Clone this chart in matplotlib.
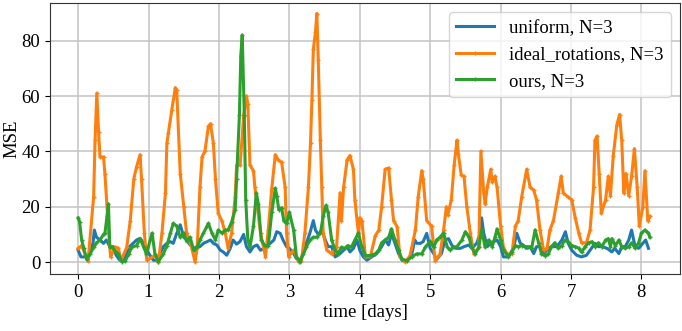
import matplotlib
matplotlib.use("Agg")
import matplotlib.pyplot as plt

# values (time in days, MSE)
uniform_t = [0.00, 0.04, 0.08, 0.12, 0.17, 0.21, 0.23, 0.26, 0.31, 0.36, 0.40, 0.45, 0.50, 0.54, 0.59,
             0.64, 0.69, 0.73, 0.78, 0.83, 0.88, 0.93, 0.97, 1.02, 1.07, 1.12, 1.16, 1.21, 1.26, 1.31,
             1.35, 1.40, 1.45, 1.50, 1.54, 1.59, 1.64, 1.69, 1.73, 1.78, 1.83, 1.88, 1.92, 1.97, 2.02,
             2.06, 2.11, 2.16, 2.20, 2.25, 2.30, 2.35, 2.39, 2.44, 2.49, 2.54, 2.59, 2.64, 2.70, 2.78,
             2.82, 2.87, 2.91, 2.96, 3.00, 3.06, 3.10, 3.15, 3.20, 3.24, 3.29, 3.34, 3.37, 3.41, 3.46,
             3.51, 3.55, 3.60, 3.65, 3.72, 3.77, 3.82, 3.86, 3.91, 3.96, 4.00, 4.05, 4.10, 4.17, 4.24,
             4.31, 4.36, 4.41, 4.45, 4.50, 4.55, 4.60, 4.67, 4.74, 4.78, 4.81, 4.86, 4.90, 4.95, 5.00,
             5.05, 5.09, 5.16, 5.21, 5.26, 5.31, 5.36, 5.43, 5.48, 5.55, 5.59, 5.66, 5.71, 5.73, 5.76,
             5.81, 5.86, 5.90, 5.95, 6.00, 6.04, 6.11, 6.18, 6.23, 6.28, 6.32, 6.37, 6.42, 6.47, 6.51,
             6.56, 6.61, 6.68, 6.73, 6.80, 6.87, 6.92, 6.96, 7.01, 7.08, 7.15, 7.22, 7.29, 7.34, 7.39,
             7.44, 7.51, 7.58, 7.62, 7.68, 7.72, 7.77, 7.82, 7.86, 7.91, 7.96, 8.02, 8.06, 8.10]
uniform_mse = [4.3, 1.9, 1.9, 1.9, 3.1, 6.8, 11.6, 9.0, 8.0, 6.8, 8.0, 5.6, 5.6, 2.5, 0.7,
               0.7, 3.1, 5.6, 6.8, 8.0, 8.6, 6.8, 4.3, 2.5, 0.7, 0.7, 3.1, 5.6, 6.8, 7.4,
               6.8, 10.4, 13.5, 9.0, 8.0, 6.2, 5.0, 5.6, 5.6, 6.8, 7.4, 8.0, 6.8, 6.2, 4.3,
               3.7, 2.5, 5.0, 8.0, 6.5, 7.5, 10.0, 5.6, 3.7, 5.6, 6.2, 4.3, 5.0, 6.2, 8.0,
               11.0, 10.4, 8.0, 5.6, 5.0, 3.1, 1.3, 0.7, 3.1, 6.8, 10.4, 15.0, 11.6, 10.0, 11.6,
               8.0, 5.6, 5.6, 1.9, 3.1, 4.3, 5.6, 3.7, 5.0, 8.0, 4.3, 1.9, 0.7, 1.9, 3.1,
               5.6, 8.0, 6.2, 10.4, 6.8, 3.1, 0.7, 0.7, 3.1, 8.0, 6.8, 6.8, 7.4, 10.4, 5.0,
               3.1, 1.0, 3.1, 8.0, 8.5, 6.0, 5.0, 5.0, 5.6, 6.2, 5.0, 6.8, 10.4, 16.0, 10.4,
               5.6, 6.8, 7.4, 8.0, 5.6, 1.9, 1.9, 5.0, 10.4, 6.8, 6.2, 5.0, 5.6, 3.1, 5.6,
               5.6, 3.1, 5.0, 5.6, 5.6, 8.0, 11.0, 6.8, 4.3, 2.5, 1.9, 2.5, 5.0, 6.8, 5.6,
               5.6, 5.0, 3.7, 5.0, 3.1, 5.6, 5.6, 8.0, 11.6, 5.6, 5.0, 6.8, 8.0, 5.0]

ideal_t = [0.00, 0.05, 0.14, 0.22, 0.24, 0.265, 0.29, 0.31, 0.36, 0.38, 0.43, 0.46, 0.53, 0.57, 0.61,
           0.69, 0.74, 0.79, 0.83, 0.88, 0.90, 0.94, 0.975, 1.09, 1.14, 1.19, 1.24, 1.26, 1.28, 1.33,
           1.38, 1.40, 1.45, 1.50, 1.54, 1.61, 1.66, 1.69, 1.73, 1.76, 1.80, 1.85, 1.88, 1.92, 1.95,
           1.99, 2.04, 2.09, 2.13, 2.18, 2.23, 2.25, 2.30, 2.35, 2.39, 2.41, 2.44, 2.49, 2.51, 2.59,
           2.66, 2.70, 2.75, 2.80, 2.84, 2.89, 2.94, 2.96, 2.99, 3.06, 3.13, 3.17, 3.22, 3.27, 3.30,
           3.32, 3.34, 3.37, 3.39, 3.41, 3.44, 3.46, 3.48, 3.53, 3.60, 3.67, 3.72, 3.74, 3.77, 3.82,
           3.86, 3.91, 3.93, 3.98, 4.00, 4.03, 4.08, 4.15, 4.22, 4.27, 4.31, 4.36, 4.41, 4.45, 4.48,
           4.53, 4.57, 4.64, 4.71, 4.79, 4.83, 4.88, 4.90, 4.95, 5.02, 5.07, 5.14, 5.19, 5.23, 5.25,
           5.30, 5.34, 5.38, 5.40, 5.44, 5.48, 5.52, 5.57, 5.62, 5.69, 5.72, 5.76, 5.78, 5.81, 5.86,
           5.88, 5.92, 5.95, 6.00, 6.04, 6.09, 6.16, 6.21, 6.25, 6.30, 6.37, 6.42, 6.47, 6.51, 6.56,
           6.61, 6.66, 6.70, 6.75, 6.82, 6.86, 6.89, 6.95, 7.01, 7.06, 7.11, 7.15, 7.22, 7.27, 7.32,
           7.34, 7.37, 7.40, 7.43, 7.49, 7.53, 7.56, 7.60, 7.65, 7.69, 7.72, 7.75, 7.78, 7.82, 7.86,
           7.90, 7.94, 7.97, 8.02, 8.05, 8.09, 8.12]
ideal_mse = [5.0, 6.0, 0.3, 23.7, 44.0, 61.0, 47.0, 38.0, 38.0, 32.0, 11.6, 2.0, 5.4, 5.0, 0.6,
             5.4, 15.0, 30.0, 34.5, 38.8, 30.0, 10.5, 0.7, 2.4, 0.1, 10.5, 25.0, 43.0, 46.5, 55.0,
             63.0, 62.0, 32.0, 20.0, 10.5, 5.4, 0.1, 5.0, 27.0, 38.0, 40.0, 49.0, 50.0, 43.0, 30.0,
             17.6, 15.0, 10.5, 5.0, 10.5, 23.7, 35.0, 35.0, 52.7, 60.0, 57.0, 35.0, 33.0, 27.0, 10.5,
             2.0, 11.6, 26.7, 38.8, 37.0, 36.0, 27.0, 10.5, 2.0, 4.4, 0.1, 0.5, 10.5, 27.0, 43.0,
             58.6, 76.8, 83.0, 89.8, 73.0, 44.0, 27.0, 10.5, 4.4, 3.0, 5.4, 25.0, 15.0, 27.0, 37.0,
             38.5, 33.5, 22.5, 10.5, 16.0, 15.0, 2.0, 2.0, 9.5, 11.6, 20.0, 33.5, 34.0, 22.5, 15.0,
             12.8, 2.0, 0.1, 2.0, 11.6, 23.7, 33.0, 30.0, 15.0, 13.0, 0.5, 3.0, 11.6, 20.0, 17.0,
             22.5, 35.0, 44.0, 39.0, 31.5, 31.0, 20.0, 10.5, 3.0, 5.4, 40.0, 25.0, 21.0, 27.0, 33.5,
             29.0, 31.0, 27.0, 13.0, 5.4, 3.0, 3.0, 13.0, 15.0, 23.7, 33.5, 27.0, 26.0, 22.5, 11.6,
             4.4, 5.0, 11.6, 15.0, 25.0, 31.0, 25.0, 23.7, 22.5, 16.0, 10.5, 7.0, 7.0, 11.6, 27.0,
             44.0, 45.5, 32.0, 17.6, 22.5, 31.0, 24.0, 38.5, 49.5, 53.3, 44.0, 25.0, 32.0, 24.0, 31.0,
             41.0, 27.0, 13.0, 20.0, 33.0, 15.0, 16.5]

ours_t = [0.00, 0.02, 0.05, 0.08, 0.12, 0.17, 0.22, 0.26, 0.31, 0.36, 0.38, 0.41, 0.43, 0.45, 0.48,
          0.53, 0.57, 0.62, 0.67, 0.72, 0.76, 0.83, 0.88, 0.93, 0.97, 1.05, 1.09, 1.14, 1.21, 1.26,
          1.31, 1.35, 1.40, 1.45, 1.50, 1.54, 1.59, 1.64, 1.69, 1.73, 1.78, 1.83, 1.85, 1.90, 1.95,
          1.99, 2.04, 2.09, 2.13, 2.18, 2.23, 2.25, 2.29, 2.31, 2.33, 2.36, 2.38, 2.41, 2.44, 2.49,
          2.53, 2.56, 2.60, 2.65, 2.70, 2.75, 2.80, 2.82, 2.85, 2.89, 2.92, 2.96, 3.00, 3.06, 3.10,
          3.15, 3.20, 3.24, 3.29, 3.34, 3.39, 3.44, 3.48, 3.52, 3.55, 3.60, 3.65, 3.69, 3.74, 3.79,
          3.83, 3.88, 3.93, 3.98, 4.03, 4.08, 4.15, 4.22, 4.27, 4.31, 4.36, 4.41, 4.45, 4.50, 4.55,
          4.60, 4.67, 4.74, 4.81, 4.88, 4.93, 5.00, 5.05, 5.09, 5.14, 5.19, 5.24, 5.28, 5.33, 5.38,
          5.45, 5.50, 5.55, 5.59, 5.64, 5.69, 5.73, 5.78, 5.83, 5.88, 5.92, 5.95, 6.00, 6.04, 6.11,
          6.16, 6.21, 6.25, 6.30, 6.35, 6.39, 6.44, 6.49, 6.54, 6.58, 6.63, 6.68, 6.72, 6.77, 6.82,
          6.87, 6.91, 6.96, 7.01, 7.06, 7.11, 7.15, 7.20, 7.25, 7.30, 7.34, 7.39, 7.44, 7.49, 7.53,
          7.56, 7.58, 7.63, 7.68, 7.72, 7.77, 7.82, 7.86, 7.91, 7.96, 8.00, 8.05, 8.10, 8.12]
ours_mse = [16.0, 14.5, 8.0, 5.0, 1.0, 3.0, 5.4, 7.0, 8.0, 10.0, 10.5, 16.5, 21.0, 5.4, 5.4,
            4.0, 3.0, 0.2, 0.5, 3.0, 5.4, 6.0, 8.5, 5.4, 3.0, 10.5, 3.0, 0.2, 3.0, 6.0,
            10.5, 14.0, 13.0, 9.0, 10.5, 7.5, 9.0, 4.4, 5.4, 8.0, 10.5, 13.0, 14.0, 10.5, 8.0,
            11.6, 10.5, 11.6, 11.6, 14.5, 19.0, 30.0, 53.0, 74.6, 82.0, 53.0, 22.5, 8.0, 5.4, 13.0,
            25.0, 21.0, 8.0, 6.0, 6.0, 18.0, 26.7, 24.0, 19.0, 19.6, 15.0, 14.0, 18.0, 11.6, 2.0,
            0.2, 3.0, 5.4, 8.0, 9.0, 9.0, 10.5, 16.5, 20.5, 18.0, 8.0, 4.4, 3.0, 5.4, 5.0,
            6.0, 5.4, 8.0, 10.5, 5.4, 2.4, 2.4, 3.0, 4.4, 7.0, 8.0, 9.0, 12.0, 8.0, 4.4,
            1.0, 0.5, 2.0, 3.0, 3.0, 5.4, 7.5, 5.4, 8.0, 9.0, 10.5, 5.6, 4.4, 5.4, 5.6,
            8.0, 11.0, 9.0, 5.4, 3.0, 5.4, 11.6, 5.4, 8.0, 5.6, 9.0, 12.0, 8.0, 4.4, 2.0,
            3.6, 6.0, 5.6, 6.0, 5.6, 5.6, 5.0, 11.6, 7.0, 3.0, 2.4, 3.0, 5.6, 7.0, 5.0,
            6.0, 8.0, 7.4, 6.0, 5.6, 5.0, 3.6, 5.6, 7.0, 7.4, 5.6, 7.0, 5.6, 8.0, 8.5,
            5.6, 8.5, 6.0, 8.0, 5.6, 5.0, 5.6, 7.0, 5.0, 7.0, 10.5, 11.6, 10.5, 9.0]

plt.rcParams["font.family"] = ["Liberation Serif", "DejaVu Serif"]
plt.rcParams["font.size"] = 13.5

fig = plt.figure(figsize=(6.82, 3.31), dpi=100)
ax = fig.add_axes([0.0733, 0.172, 0.924, 0.819])

ax.plot(uniform_t, uniform_mse, color="#1f77b4", lw=2.2, label="uniform, N=3")
ax.plot(ideal_t, ideal_mse, color="#ff7f0e", lw=2.2, marker="+", ms=3, label="ideal_rotations, N=3")
ax.plot(ours_t, ours_mse, color="#2ca02c", lw=2.2, marker="+", ms=3, label="ours, N=3")

ax.set_xlim(-0.4, 8.55)
ax.set_ylim(-4.3, 93.6)
ax.set_xticks(range(0, 9))
ax.set_yticks([0, 20, 40, 60, 80])
ax.grid(True, color="#c4c4c4", lw=1.1)
for s in ax.spines.values():
    s.set_color("#333333")
ax.set_xlabel("time [days]", labelpad=2)
ax.set_ylabel("MSE", labelpad=1)
ax.legend(loc="upper right", fontsize=13.5)

fig.savefig("out.png", dpi=100)
